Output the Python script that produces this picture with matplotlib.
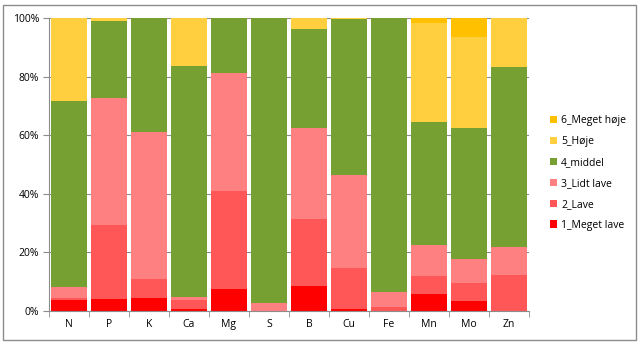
import matplotlib
matplotlib.use('Agg')
import matplotlib.pyplot as plt
import numpy as np
from matplotlib.patches import Rectangle
from matplotlib.ticker import FixedLocator, PercentFormatter

# Data (percent of samples per class)
elements = ['N', 'P', 'K', 'Ca', 'Mg', 'S', 'B', 'Cu', 'Fe', 'Mn', 'Mo', 'Zn']
meget_lave = [3.9, 4.0, 4.3, 0.8, 7.4, 0.0, 8.6, 0.7, 0.0, 5.7, 3.4, 0.0]
lave = [0.6, 25.4, 6.7, 3.0, 33.6, 0.0, 22.8, 14.1, 1.5, 6.1, 6.3, 12.2]
lidt_lave = [3.8, 43.3, 50.1, 1.0, 40.3, 2.8, 31.2, 31.6, 5.0, 10.8, 8.0, 9.5]
middel = [63.3, 26.4, 38.9, 78.8, 18.7, 97.2, 33.5, 53.3, 93.5, 42.0, 44.9, 61.6]
hoeje = [28.4, 0.9, 0.0, 16.4, 0.0, 0.0, 3.9, 0.3, 0.0, 33.8, 30.9, 16.7]
meget_hoeje = [0.0, 0.0, 0.0, 0.0, 0.0, 0.0, 0.0, 0.0, 0.0, 1.6, 6.5, 0.0]

series = [
    ('1_Meget lave', meget_lave, '#FF0000'),
    ('2_Lave', lave, '#FF5757'),
    ('3_Lidt lave', lidt_lave, '#FF8080'),
    ('4_middel', middel, '#77A032'),
    ('5_Høje', hoeje, '#FFCF40'),
    ('6_Meget høje', meget_hoeje, '#FFC000'),
]

plt.rcParams['font.family'] = ['Open Sans', 'DejaVu Sans']

fig = plt.figure(figsize=(6.41, 3.46), dpi=100)
ax = fig.add_axes([49 / 641, 35 / 346, 480 / 641, 293 / 346])

x = np.arange(len(elements))
bottom = np.zeros(len(elements))
for name, vals, color in series:
    vals = np.array(vals)
    ax.bar(x, vals, bottom=bottom, width=0.9, color=color, label=name, zorder=2)
    bottom += vals

ax.set_xlim(-0.5, len(elements) - 0.5)
ax.set_ylim(0, 100)
ax.yaxis.set_major_locator(FixedLocator([0, 20, 40, 60, 80, 100]))
ax.yaxis.set_major_formatter(PercentFormatter(decimals=0))
ax.grid(axis='y', color='#8C8C8C', linewidth=0.8, zorder=0)

ax.set_xticks(x)
ax.set_xticklabels(elements)
ax.tick_params(axis='x', which='major', length=0, pad=6)
ax.xaxis.set_minor_locator(FixedLocator(np.arange(-0.5, len(elements), 1)))
ax.tick_params(axis='x', which='minor', length=4, color='#8C8C8C')
ax.tick_params(axis='y', length=4, color='#8C8C8C', pad=3)
ax.tick_params(labelsize=7.5)

for side in ['top', 'right']:
    ax.spines[side].set_visible(False)
for side in ['left', 'bottom']:
    ax.spines[side].set_color('#8C8C8C')

handles, labels = ax.get_legend_handles_labels()
fig.legend(handles[::-1], labels[::-1], loc='center left', bbox_to_anchor=(0.843, 0.5),
           frameon=False, fontsize=7.5, handlelength=0.7, handleheight=0.7,
           handletextpad=0.4, labelspacing=0.95)

# outer chart border
fig.patches.append(Rectangle((3 / 641, 6 / 346), 633 / 641, 335 / 346, transform=fig.transFigure,
                             fill=False, edgecolor='#8C8C8C', linewidth=1))

fig.savefig('out.png', dpi=100)
